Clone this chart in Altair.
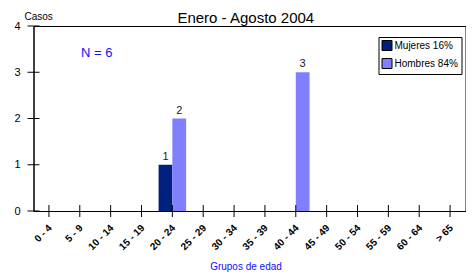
import altair as alt
import pandas as pd

# ---- data ----
grupos = ["0 - 4", "5 - 9", "10 - 14", "15 - 19", "20 - 24", "25 - 29", "30 - 34",
          "35 - 39", "40 - 44", "45 - 49", "50 - 54", "55 - 59", "60 - 64", "> 65"]
mujeres = [0, 0, 0, 0, 1, 0, 0, 0, 0, 0, 0, 0, 0, 0]
hombres = [0, 0, 0, 0, 2, 0, 0, 0, 3, 0, 0, 0, 0, 0]
series = ["Mujeres 16%", "Hombres 84%"]
colores = ["#002080", "#8080ff"]
y_ticks = [0, 1, 2, 3, 4]
titulo = ["Enero - Agosto 2004"]
anotacion = ["N = 6"]

FONT = "Liberation Sans, Arial, sans-serif"

rows = []
for g, m, h in zip(grupos, mujeres, hombres):
    rows.append({"grupo": g, "serie": series[0], "casos": m})
    rows.append({"grupo": g, "serie": series[1], "casos": h})
df = pd.DataFrame(rows)
df_nz = df[df["casos"] > 0].copy()
df_nz["etiqueta"] = df_nz["casos"].astype(str)

x_enc = alt.X(
    "grupo:N", sort=grupos,
    scale=alt.Scale(domain=grupos, paddingInner=0, paddingOuter=0),
    axis=alt.Axis(
        title="Grupos de edad", labelAngle=-45, labelAlign="right", labelBaseline="middle",
        labelFontWeight="bold", labelFontSize=10, labelColor="black", labelPadding=15,
        labelOffset=1.5,
        ticks=False, tickSize=0, domainColor="black", domainWidth=1,
        titleColor="#1010ff", titleFontSize=10, titleFontWeight="normal",
        titleX=212, titleY=58, titleAlign="center", titleBaseline="alphabetic",
        labelOverlap=False,
    ),
)
y_enc = alt.Y(
    "casos:Q",
    scale=alt.Scale(domain=[0, 4], nice=False),
    axis=alt.Axis(
        values=y_ticks, title="Casos", titleAngle=0, titleX=-9.5, titleY=-6.7,
        titleAlign="left", titleBaseline="alphabetic", titleFontSize=10,
        titleFontWeight="normal", titleColor="black",
        labelFontSize=11, labelColor="black", labelPadding=13.5,
        ticks=False, tickSize=0, grid=False, domainColor="black", domainWidth=1,
    ),
)
xoff_enc = alt.XOffset(
    "serie:N", sort=series,
    scale=alt.Scale(domain=series, paddingInner=0, paddingOuter=0.12),
)

bars = alt.Chart(df).mark_bar().encode(
    x=x_enc,
    xOffset=xoff_enc,
    y=y_enc,
    color=alt.Color(
        "serie:N", sort=series,
        scale=alt.Scale(domain=series, range=colores),
        legend=alt.Legend(
            title=None, orient="none", legendX=345, legendY=11,
            symbolType="square", symbolSize=100, symbolStrokeColor="black",
            symbolStrokeWidth=1, symbolOpacity=1,
            labelFontSize=10, labelColor="black", labelOffset=2,
            padding=3, rowPadding=3, strokeColor="black", fillColor="white",
        ),
    ),
)

labels = alt.Chart(df_nz).mark_text(
    dy=-5, baseline="alphabetic", fontSize=11, color="#222222"
).encode(
    x=alt.X("grupo:N", sort=grupos),
    xOffset=alt.XOffset("serie:N", sort=series),
    y=alt.Y("casos:Q"),
    text="etiqueta:N",
)

xticks = alt.Chart(pd.DataFrame({"grupo": grupos})).mark_tick(
    orient="vertical", size=12, thickness=1, color="black", opacity=1
).encode(
    x=alt.X("grupo:N", sort=grupos),
    y=alt.datum(0),
)

yticks = alt.Chart(pd.DataFrame({"casos": y_ticks})).mark_tick(
    orient="horizontal", size=12, thickness=1, color="black", opacity=1
).encode(
    y=alt.Y("casos:Q"),
    x=alt.value(0),
)

ntext = alt.Chart(pd.DataFrame({"t": anotacion})).mark_text(
    align="left", baseline="alphabetic", fontSize=13, color="#1010ff"
).encode(
    x=alt.value(47.5),
    y=alt.value(31),
    text="t:N",
)

title_text = alt.Chart(pd.DataFrame({"t": titulo})).mark_text(
    align="center", baseline="alphabetic", fontSize=15, color="black"
).encode(
    x=alt.value(212.3),
    y=alt.value(-3.5),
    text="t:N",
)

chart = alt.layer(bars, labels, xticks, yticks, ntext, title_text).properties(
    width=432,
    height=185,
    autosize=alt.AutoSizeParams(type="none"),
    padding={"left": 25.5, "top": 18, "right": 0.5, "bottom": 62},
).configure(font=FONT).configure_view(stroke="black", strokeWidth=1)

chart.save("out.html", embed_options={"renderer": "svg", "actions": False})
